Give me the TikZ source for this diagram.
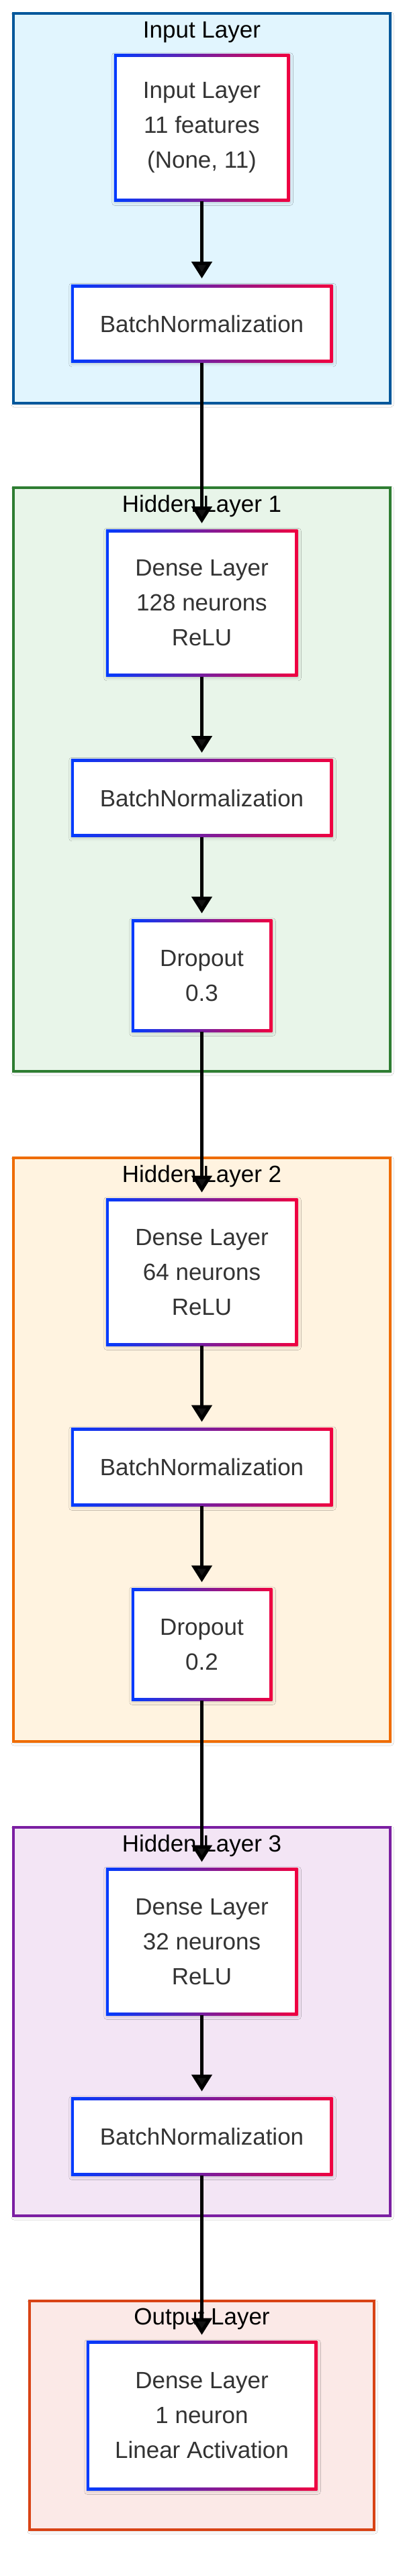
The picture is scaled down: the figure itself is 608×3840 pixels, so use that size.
\documentclass[tikz,border=0pt]{standalone}
\usepackage{fontspec}
\setmainfont{Liberation Sans}
\usetikzlibrary{arrows.meta,shadows.blur}
\definecolor{gblue}{RGB}{0,59,255}
\definecolor{gred}{RGB}{240,0,64}
\definecolor{txtgray}{HTML}{333333}
\definecolor{c0fill}{HTML}{E1F5FE}\definecolor{c0draw}{HTML}{01579B}
\definecolor{c1fill}{HTML}{E8F5E9}\definecolor{c1draw}{HTML}{2E7D32}
\definecolor{c2fill}{HTML}{FFF3E0}\definecolor{c2draw}{HTML}{EF6C00}
\definecolor{c3fill}{HTML}{F3E5F5}\definecolor{c3draw}{HTML}{7B1FA2}
\definecolor{c4fill}{HTML}{FBE9E7}\definecolor{c4draw}{HTML}{D84315}
\begin{document}
\begin{tikzpicture}[x=1pt,y=-1pt,
  gnode/.style={rectangle, inner sep=0pt, align=center, text=txtgray,
    font=\fontsize{35}{52}\selectfont,
    blur shadow={shadow xshift=1pt,shadow yshift=-2pt,shadow blur radius=4pt,shadow opacity=18},
    path picture={
      \shade[left color=gblue,right color=gred] (path picture bounding box.south west) rectangle (path picture bounding box.north east);
      \fill[white] ([xshift=4.5pt,yshift=4.5pt]path picture bounding box.south west) rectangle ([xshift=-4.5pt,yshift=-4.5pt]path picture bounding box.north east);
    }},
  dense/.style={gnode, minimum height=219.5pt},
  bnorm/.style={gnode, minimum width=389.5pt, minimum height=116.5pt},
  drop/.style={gnode, minimum width=209.5pt, minimum height=167.5pt},
  cluster/.style={line width=4pt,
    blur shadow={shadow xshift=1pt,shadow yshift=-2pt,shadow blur radius=4pt,shadow opacity=15}},
  ctitle/.style={anchor=base, inner sep=0pt, text=black, font=\fontsize{35}{42}\selectfont},
  arr/.style={line width=5pt, -{Triangle[width=30pt,length=25pt]}, shorten >=9pt}]
\useasboundingbox[fill=white] (0,0) rectangle (608,3840);

% clusters
\draw[cluster, fill=c0fill, draw=c0draw] (20,20) rectangle (581,601);
\draw[cluster, fill=c1fill, draw=c1draw] (20,727) rectangle (581,1597);
\draw[cluster, fill=c2fill, draw=c2draw] (20,1726) rectangle (581,2596);
\draw[cluster, fill=c3fill, draw=c3draw] (20,2724) rectangle (581,3303);
\draw[cluster, fill=c4fill, draw=c4draw] (44,3430) rectangle (557,3771);

\node[ctitle] (t0) at (300.5,57) {Input Layer};
\node[ctitle] (t1) at (300.5,763) {Hidden Layer 1};
\node[ctitle] (t2) at (300.5,1762) {Hidden Layer 2};
\node[ctitle] (t3) at (300.5,2760) {Hidden Layer 3};
\node[ctitle] (t4) at (300.5,3465) {Output Layer};

% nodes
\node[dense, minimum width=261.5pt] (in) at (300.5,190.5) {Input Layer\\11 features\\(None, 11)};
\node[bnorm] (bn0) at (300.5,482.5) {BatchNormalization};

\node[dense, minimum width=285.5pt] (d1) at (300.5,899) {Dense Layer\\128 neurons\\ReLU};
\node[bnorm] (bn1) at (300.5,1189.5) {BatchNormalization};
\node[drop] (p1) at (300.5,1454.5) {Dropout\\0.3};

\node[dense, minimum width=285.5pt] (d2) at (300.5,1896.5) {Dense Layer\\64 neurons\\ReLU};
\node[bnorm] (bn2) at (300.5,2187) {BatchNormalization};
\node[drop] (p2) at (300.5,2451.5) {Dropout\\0.2};

\node[dense, minimum width=285.5pt] (d3) at (300.5,2894.5) {Dense Layer\\32 neurons\\ReLU};
\node[bnorm] (bn3) at (300.5,3185) {BatchNormalization};

\node[dense, minimum width=343.5pt, minimum height=222.5pt] (out) at (300.5,3601) {Dense Layer\\1 neuron\\Linear Activation};

% connectors
\draw[arr] (in.south) -- (bn0.north);
\draw[arr] (bn0.south) -- (d1.north);
\draw[arr] (d1.south) -- (bn1.north);
\draw[arr] (bn1.south) -- (p1.north);
\draw[arr] (p1.south) -- (d2.north);
\draw[arr] (d2.south) -- (bn2.north);
\draw[arr] (bn2.south) -- (p2.north);
\draw[arr] (p2.south) -- (d3.north);
\draw[arr] (d3.south) -- (bn3.north);
\draw[arr] (bn3.south) -- (out.north);
\end{tikzpicture}
\end{document}
